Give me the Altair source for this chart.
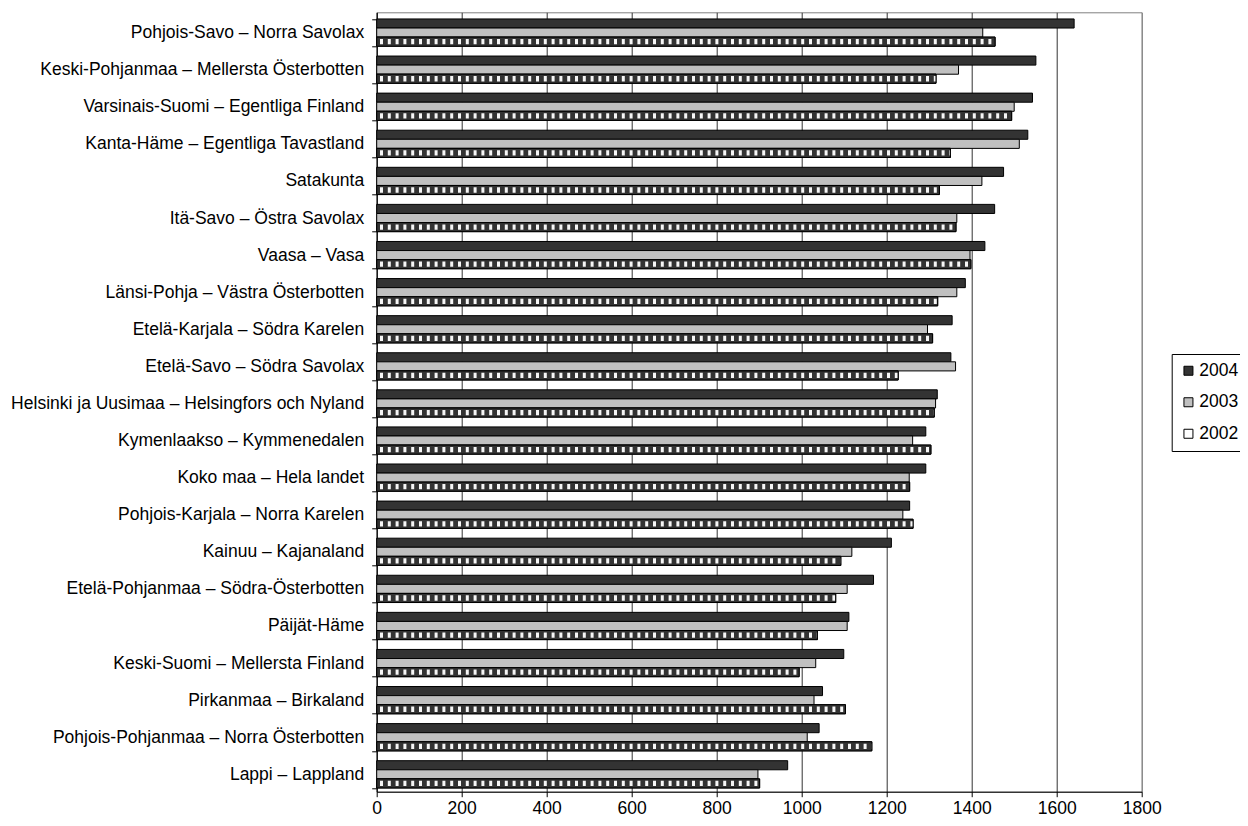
import altair as alt
import pandas as pd

REGIONS = [
    "Pohjois-Savo – Norra Savolax",
    "Keski-Pohjanmaa – Mellersta Österbotten",
    "Varsinais-Suomi – Egentliga Finland",
    "Kanta-Häme – Egentliga Tavastland",
    "Satakunta",
    "Itä-Savo – Östra Savolax",
    "Vaasa – Vasa",
    "Länsi-Pohja – Västra Österbotten",
    "Etelä-Karjala – Södra Karelen",
    "Etelä-Savo – Södra Savolax",
    "Helsinki ja Uusimaa – Helsingfors och Nyland",
    "Kymenlaakso – Kymmenedalen",
    "Koko maa – Hela landet",
    "Pohjois-Karjala – Norra Karelen",
    "Kainuu – Kajanaland",
    "Etelä-Pohjanmaa  – Södra-Österbotten",
    "Päijät-Häme",
    "Keski-Suomi – Mellersta Finland",
    "Pirkanmaa – Birkaland",
    "Pohjois-Pohjanmaa – Norra Österbotten",
    "Lappi – Lappland",
]
YEARS = ["2004", "2003", "2002"]
V2004 = [1641, 1551, 1543, 1532, 1475, 1454, 1431, 1385, 1354, 1351, 1319,
         1292, 1292, 1254, 1211, 1169, 1111, 1099, 1049, 1041, 967]
V2003 = [1426, 1369, 1500, 1512, 1424, 1365, 1396, 1365, 1296, 1362, 1315,
         1261, 1253, 1238, 1118, 1107, 1107, 1033, 1029, 1013, 897]
V2002 = [1455, 1316, 1494, 1350, 1324, 1363, 1398, 1320, 1308, 1227, 1312,
         1304, 1254, 1262, 1092, 1080, 1037, 994, 1103, 1165, 901]
X_TICKS = [0, 200, 400, 600, 800, 1000, 1200, 1400, 1600, 1800]
COLORS = ["#333333", "#c0c0c0", "#ffffff"]

rows = []
for i, r in enumerate(REGIONS):
    for yr, vals in zip(YEARS, [V2004, V2003, V2002]):
        rows.append({"region": r, "year": yr, "value": vals[i]})
df = pd.DataFrame(rows)

FONT = "Liberation Sans"
FS = 17.5

x_axis = alt.Axis(
    title=None, values=X_TICKS, format="d", labelFontSize=FS, labelColor="black",
    tickSize=5, tickColor="black", domainColor="black", labelPadding=3,
    labelFlush=False, grid=True,
    gridColor={"condition": {"test": "datum.value === 1800", "value": "#808080"},
               "value": "#333333"},
)
x_scale = alt.Scale(domain=[0, 1800], nice=False)
y_enc = alt.Y(
    "region:N",
    scale=alt.Scale(domain=REGIONS, paddingInner=0.265, paddingOuter=0.14, align=0.64),
    axis=alt.Axis(title=None, tickBand="extent", tickSize=5, tickColor="black",
                  domainColor="black", labelFontSize=FS, labelColor="black",
                  labelPadding=8, labelLimit=0, grid=False),
)
yoff = alt.YOffset("year:N", scale=alt.Scale(domain=YEARS, paddingInner=0, paddingOuter=0))

base = alt.Chart(df)

bars = base.mark_bar(stroke="black", strokeWidth=1).encode(
    x=alt.X("value:Q", scale=x_scale, axis=x_axis),
    y=y_enc,
    yOffset=yoff,
    fill=alt.Fill(
        "year:N",
        scale=alt.Scale(domain=YEARS, range=COLORS),
        legend=alt.Legend(
            title=None, orient="none", legendX=795, legendY=341.7,
            direction="vertical", symbolType="square", symbolSize=81,
            symbolStrokeColor="black", symbolStrokeWidth=1, symbolOpacity=1,
            labelFontSize=FS, labelColor="black", labelFont=FONT, labelOffset=2,
            rowPadding=12.5, padding=8, strokeColor="black", fillColor="white",
        ),
    ),
)

only02 = base.transform_filter("datum.year == '2002'")

dark02 = only02.mark_bar(fill="#333333", strokeWidth=0).encode(
    x=alt.X("value:Q", scale=x_scale, axis=x_axis), y=y_enc, yOffset=yoff
)

stripes = only02.transform_calculate(zero="0").mark_rule(
    color="#f6f6f6", strokeWidth=5.3, strokeDash=[3, 4.8], strokeDashOffset=4.5
).encode(
    x=alt.X("zero:Q", scale=x_scale, axis=x_axis),
    x2="value:Q",
    y=y_enc,
    yOffset=yoff,
)

outline02 = only02.mark_bar(fillOpacity=0, stroke="black", strokeWidth=1).encode(
    x=alt.X("value:Q", scale=x_scale, axis=x_axis), y=y_enc, yOffset=yoff
)

chart = alt.layer(bars, dark02, stripes, outline02).properties(
    width=765,
    height=779.4,
    padding={"left": 368.7, "top": 4.3, "right": 98.3, "bottom": 26.3},
    autosize=alt.AutoSizeParams(type="none"),
).configure(font=FONT).configure_view(stroke="#808080", strokeWidth=1)

chart.save("out.html", embed_options={"renderer": "svg", "actions": False})
